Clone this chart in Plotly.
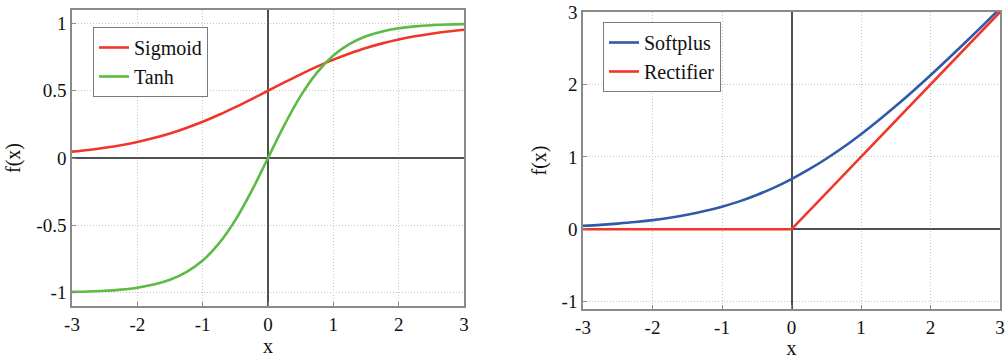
import plotly.graph_objects as go

# Sample positions along x (shared by the smooth curves)
x_vals = [-3.0, -2.75, -2.5, -2.25, -2.0, -1.75, -1.5, -1.25, -1.0, -0.75, -0.5, -0.25,
          0.0, 0.25, 0.5, 0.75, 1.0, 1.25, 1.5, 1.75, 2.0, 2.25, 2.5, 2.75, 3.0]

sigmoid_vals = [0.047, 0.060, 0.076, 0.095, 0.119, 0.148, 0.182, 0.223, 0.269, 0.321, 0.378, 0.438,
                0.500, 0.562, 0.622, 0.679, 0.731, 0.777, 0.818, 0.852, 0.881, 0.905, 0.924, 0.940, 0.953]

tanh_vals = [-0.995, -0.992, -0.987, -0.978, -0.964, -0.941, -0.905, -0.848, -0.762, -0.635, -0.462, -0.245,
             0.0, 0.245, 0.462, 0.635, 0.762, 0.848, 0.905, 0.941, 0.964, 0.978, 0.987, 0.992, 0.995]

softplus_vals = [0.049, 0.062, 0.079, 0.100, 0.127, 0.160, 0.201, 0.252, 0.313, 0.386, 0.474, 0.576,
                 0.693, 0.826, 0.974, 1.136, 1.313, 1.502, 1.701, 1.910, 2.127, 2.351, 2.579, 2.812, 3.049]

relu_x = [-3.0, 0.0, 3.0]
relu_vals = [0.0, 0.0, 3.0]

x_ticks = [-3, -2, -1, 0, 1, 2, 3]
x_tick_text = ["-3", "-2", "-1", "0", "1", "2", "3"]
left_y_ticks = [-1, -0.5, 0, 0.5, 1]
left_y_text = ["-1", "-0.5", "0", "0.5", "1"]
right_y_ticks = [-1, 0, 1, 2, 3]
right_y_text = ["-1", "0", "1", "2", "3"]

RED = "#f0362a"
GREEN = "#5cba47"
BLUE = "#2f5aa8"
FONT = "Liberation Serif, Times New Roman, serif"

fig = go.Figure()
fig.add_trace(go.Scatter(x=x_vals, y=sigmoid_vals, name="Sigmoid", mode="lines",
                         line=dict(color=RED, width=2.6, shape="spline"),
                         xaxis="x", yaxis="y", legend="legend"))
fig.add_trace(go.Scatter(x=x_vals, y=tanh_vals, name="Tanh", mode="lines",
                         line=dict(color=GREEN, width=2.6, shape="spline"),
                         xaxis="x", yaxis="y", legend="legend"))
fig.add_trace(go.Scatter(x=x_vals, y=softplus_vals, name="Softplus", mode="lines",
                         line=dict(color=BLUE, width=2.6, shape="spline"),
                         xaxis="x2", yaxis="y2", legend="legend2"))
fig.add_trace(go.Scatter(x=relu_x, y=relu_vals, name="Rectifier", mode="lines",
                         line=dict(color=RED, width=2.6),
                         xaxis="x2", yaxis="y2", legend="legend2"))

axis_common = dict(
    automargin=False,
    showline=True, mirror=True, linecolor="#8a8a8a", linewidth=1.5,
    ticks="inside", ticklen=4, tickcolor="#8a8a8a",
    showgrid=True, gridcolor="#c4c4c4", griddash="1px,2px", gridwidth=1,
    zeroline=True, zerolinecolor="#505050", zerolinewidth=1.5,
    tickfont=dict(family=FONT, size=19, color="#111"),
    title_font=dict(family=FONT, size=20, color="#111"),
)

fig.update_layout(
    width=1006, height=359,
    margin=dict(l=0, r=0, t=0, b=0, autoexpand=False),
    paper_bgcolor="white", plot_bgcolor="white",
    font=dict(family=FONT),
    showlegend=True,
    xaxis=dict(domain=[72 / 1006, 464 / 1006], range=[-3, 3], anchor="y",
               tickvals=x_ticks, ticktext=x_tick_text,
               title=dict(text="x", standoff=2), **axis_common),
    yaxis=dict(domain=[1 - 306 / 359, 1 - 10 / 359], range=[-1.1, 1.1], anchor="x",
               tickvals=left_y_ticks, ticktext=left_y_text,
               title=dict(text="f(x)", standoff=10), **axis_common),
    xaxis2=dict(domain=[583 / 1006, 1000 / 1006], range=[-3, 3], anchor="y2",
                tickvals=x_ticks, ticktext=x_tick_text,
                title=dict(text="x", standoff=2), **axis_common),
    yaxis2=dict(domain=[1 - 309 / 359, 1 - 12 / 359], range=[-1.1, 3], anchor="x2",
                tickvals=right_y_ticks, ticktext=right_y_text,
                title=dict(text="f(x)", standoff=10), **axis_common),
    legend=dict(x=93 / 1006, y=1 - 27 / 359, xanchor="left", yanchor="top",
                bgcolor="white", bordercolor="#7a7a7a", borderwidth=1,
                font=dict(family=FONT, size=20, color="#111"),
                itemwidth=30, tracegroupgap=0),
    legend2=dict(x=603 / 1006, y=1 - 22 / 359, xanchor="left", yanchor="top",
                 bgcolor="white", bordercolor="#7a7a7a", borderwidth=1,
                 font=dict(family=FONT, size=20, color="#111"),
                 itemwidth=30, tracegroupgap=0),
)

fig.write_html("out.html")
